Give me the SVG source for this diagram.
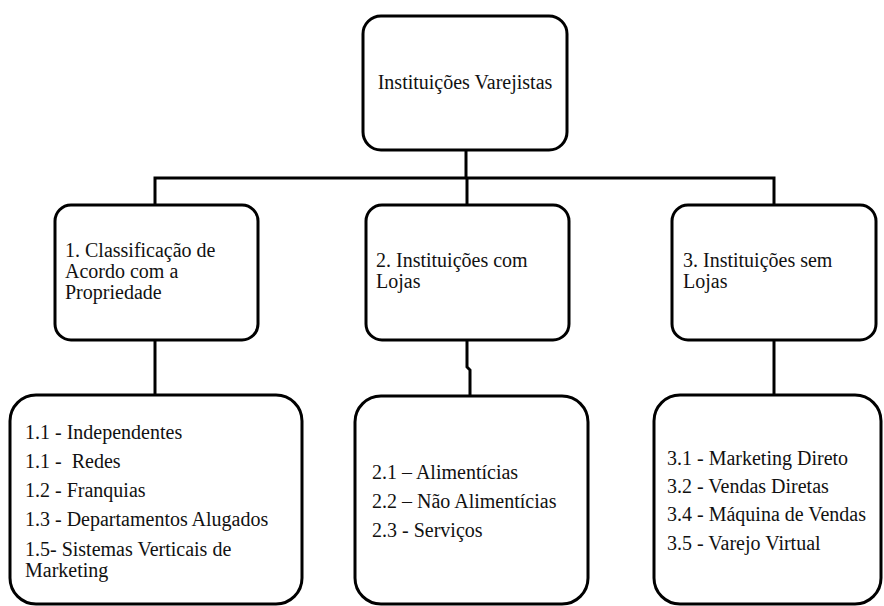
<svg xmlns="http://www.w3.org/2000/svg" width="884" height="606" viewBox="0 0 884 606">
<style>
.box{fill:#fff;stroke:#000;stroke-width:3}
.t{font-family:"Liberation Serif","Times New Roman",serif;font-size:20px;fill:#111;white-space:pre}
.c{fill:none;stroke:#000;stroke-width:3}
</style>
<rect width="884" height="606" fill="#fff"/>
<g id="connectors">
<polyline class="c" points="466,150 466,178"/>
<polyline class="c" points="155,205 155,178 774,178 774,205"/>
<polyline class="c" points="467,178 467,205"/>
<polyline class="c" points="155,340 155,396"/>
<polyline class="c" points="467,340 467,367 470,370 470,397"/>
<polyline class="c" points="774,340 774,396"/>
</g>
<g id="root">
<rect class="box" x="363" y="16" width="204" height="134" rx="18"/>
<text class="t" x="465" y="89" text-anchor="middle">Instituições Varejistas</text>
</g>
<g id="n1">
<rect class="box" x="55" y="205" width="203" height="135" rx="16"/>
<text class="t" x="65" y="257">1. Classificação de</text>
<text class="t" x="65" y="278">Acordo com a</text>
<text class="t" x="65" y="299">Propriedade</text>
</g>
<g id="n2">
<rect class="box" x="366" y="205" width="203" height="135" rx="16"/>
<text class="t" x="376" y="267">2. Instituições com</text>
<text class="t" x="376" y="288">Lojas</text>
</g>
<g id="n3">
<rect class="box" x="672" y="205" width="204" height="135" rx="16"/>
<text class="t" x="683" y="267">3. Instituições sem</text>
<text class="t" x="683" y="288">Lojas</text>
</g>
<g id="n1a">
<rect class="box" x="10" y="395" width="292" height="209" rx="26"/>
<text class="t" x="25" y="439">1.1 - Independentes</text>
<text class="t" x="25" y="468">1.1 -  Redes</text>
<text class="t" x="25" y="497">1.2 - Franquias</text>
<text class="t" x="25" y="526">1.3 - Departamentos Alugados</text>
<text class="t" x="25" y="556">1.5- Sistemas Verticais de</text>
<text class="t" x="25" y="577">Marketing</text>
</g>
<g id="n2a">
<rect class="box" x="355" y="396" width="233" height="208" rx="26"/>
<text class="t" x="372" y="479">2.1 – Alimentícias</text>
<text class="t" x="372" y="508">2.2 – Não Alimentícias</text>
<text class="t" x="372" y="537">2.3 - Serviços</text>
</g>
<g id="n3a">
<rect class="box" x="654" y="395" width="227" height="209" rx="26"/>
<text class="t" x="667" y="465">3.1 - Marketing Direto</text>
<text class="t" x="667" y="493">3.2 - Vendas Diretas</text>
<text class="t" x="667" y="521">3.4 - Máquina de Vendas</text>
<text class="t" x="667" y="550">3.5 - Varejo Virtual</text>
</g>
</svg>
